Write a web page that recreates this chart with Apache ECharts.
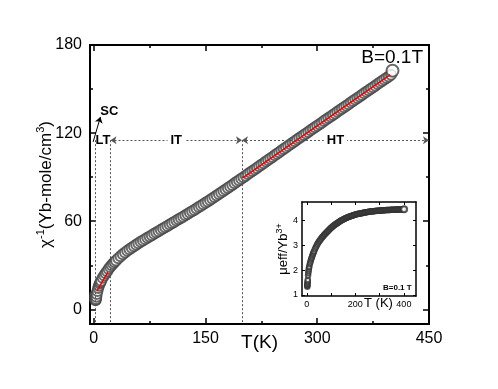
<!DOCTYPE html>
<html>
<head>
<meta charset="utf-8">
<script src="https://cdn.jsdelivr.net/npm/echarts@6/dist/echarts.min.js"></script>
<style>
  html, body { margin: 0; padding: 0; background: #fff; }
  #main { width: 498px; height: 389px; }
</style>
</head>
<body>
<div id="main"></div>
<script>
// temperature (K), shared by main plot and inset
var tempK = [1.8, 2, 2.2, 2.5, 3, 3.5, 4, 5, 6, 7, 8, 9, 10, 12, 14, 16, 18, 20, 22, 24, 26, 28,
  30, 33, 36, 39, 42, 45, 48, 51, 54, 57, 60, 63, 66, 69, 72, 75, 78, 81, 84, 87, 90, 93, 96, 99,
  102, 105, 108, 111, 114, 117, 120, 123, 126, 129, 132, 135, 138, 141, 144, 147, 150, 153, 156, 159,
  162, 165, 168, 171, 174, 177, 180, 183, 186, 189, 192, 195, 198, 201, 204, 207, 210, 213, 216, 219,
  222, 225, 228, 231, 234, 237, 240, 243, 246, 249, 252, 255, 258, 261, 264, 267, 270, 273, 276, 279,
  282, 285, 288, 291, 294, 297, 300, 303, 306, 309, 312, 315, 318, 321, 324, 327, 330, 333, 336, 339,
  342, 345, 348, 351, 354, 357, 360, 363, 366, 369, 372, 375, 378, 381, 384, 387, 390, 393, 396, 399, 401]
// inverse susceptibility (Yb-mole/cm3)
var chiInv = [9.5, 7.5, 6.5, 6.2, 7, 8.5, 10.5, 12.5, 14.5, 16, 17.5, 18.5, 19.5, 21.5, 23, 24.5, 26, 27.5, 28.8, 30, 31.2, 32.3,
  33.3, 34.8, 36.2, 37.5, 38.7, 39.8, 40.9, 42, 43, 44, 45, 46, 46.9, 47.8, 48.7, 49.6, 50.5, 51.4, 52.3, 53.2, 54.1, 55, 55.9, 56.8,
  57.7, 58.6, 59.5, 60.4, 61.3, 62.2, 63.1, 64, 64.9, 65.9, 66.8, 67.7, 68.7, 69.6, 70.6, 71.5, 72.5, 73.5, 74.5, 75.5,
  76.5, 77.5, 78.5, 79.5, 80.5, 81.6, 82.6, 83.7, 84.7, 85.8, 86.8, 87.9, 88.9, 90, 91, 92.1, 93.1, 94.2, 95.2, 96.3,
  97.4, 98.4, 99.5, 100.6, 101.6, 102.7, 103.8, 104.9, 105.9, 107, 108.1, 109.2, 110.2, 111.3, 112.4, 113.4, 114.5, 115.6, 116.6, 117.7,
  118.7, 119.8, 120.8, 121.9, 122.9, 124, 125, 126.1, 127.1, 128.2, 129.2, 130.3, 131.3, 132.4, 133.4, 134.5, 135.5, 136.6, 137.6, 138.7,
  139.7, 140.8, 141.8, 142.9, 143.9, 145, 146, 147.1, 148.1, 149.2, 150.2, 151.3, 152.3, 153.4, 154.4, 155.5, 156.5, 157.6, 158.6, 159.7, 162.5]
// effective moment (inset)
var muEff = [1.32, 1.36, 1.4, 1.45, 1.5, 1.55, 1.6, 1.78, 1.88, 1.96, 2.03, 2.1, 2.14, 2.24, 2.3, 2.38, 2.45, 2.5, 2.56, 2.62, 2.67, 2.72,
  2.76, 2.84, 2.9, 2.96, 3.02, 3.07, 3.12, 3.16, 3.2, 3.24, 3.28, 3.32, 3.36, 3.39, 3.43, 3.46, 3.49, 3.52, 3.55, 3.58, 3.61, 3.64, 3.67, 3.7,
  3.72, 3.75, 3.77, 3.8, 3.82, 3.84, 3.86, 3.88, 3.9, 3.92, 3.94, 3.96, 3.98, 4.0, 4.01, 4.03, 4.04, 4.06, 4.07, 4.09,
  4.1, 4.11, 4.13, 4.14, 4.15, 4.16, 4.17, 4.18, 4.19, 4.2, 4.21, 4.22, 4.23, 4.24, 4.25, 4.26, 4.26, 4.27, 4.28, 4.29,
  4.29, 4.3, 4.31, 4.31, 4.32, 4.33, 4.33, 4.34, 4.34, 4.35, 4.35, 4.36, 4.36, 4.37, 4.37, 4.37, 4.38, 4.38, 4.38, 4.39,
  4.39, 4.39, 4.4, 4.4, 4.4, 4.4, 4.41, 4.41, 4.41, 4.41, 4.42, 4.42, 4.42, 4.42, 4.42, 4.43, 4.43, 4.43, 4.43, 4.43,
  4.43, 4.44, 4.44, 4.44, 4.44, 4.44, 4.44, 4.44, 4.45, 4.45, 4.45, 4.45, 4.45, 4.45, 4.45, 4.45, 4.45, 4.46, 4.46, 4.46, 4.46]

// linear fits (red)
var htFitT = [200, 398]
var htFitChi = [89.5, 159.8]
var ltFitT = [4.5, 19]
var ltFitChi = [12.8, 25.4]

// region boundaries
var boundaryT = [2.5, 22.5, 199]
var regionLevel = 115.2

// ticks
var xTicks = [0, 150, 300, 450]
var xMinor = [75, 225, 375]
var yTicks = [0, 60, 120, 180]
var yMinor = [30, 90, 150]
var insetXTicks = [0, 100, 200, 300, 400]
var insetXLabels = [0, 200, 400]
var insetYTicks = [1, 2, 3, 4]

var FONT = 'Liberation Sans, Arial, sans-serif'

function pairs (xs, ys) {
  return xs.map(function (x, i) { return [x, ys[i]] })
}

function mainX (pos, ticks, len, labels) {
  return {
    type: 'value', gridIndex: 0, position: pos, min: -5, max: 450,
    axisLine: { show: true, onZero: false, lineStyle: { color: '#000', width: 2 } },
    axisTick: { show: true, inside: true, length: len, customValues: ticks, lineStyle: { color: '#000', width: 1.5 } },
    axisLabel: labels ? { show: true, customValues: labels, fontSize: 16, color: '#000', fontFamily: FONT, margin: 7 } : { show: false },
    splitLine: { show: false }
  }
}
function mainY (pos, ticks, len, labels) {
  return {
    type: 'value', gridIndex: 0, position: pos, min: -10, max: 180,
    axisLine: { show: true, onZero: false, lineStyle: { color: '#000', width: 2 } },
    axisTick: { show: true, inside: true, length: len, customValues: ticks, lineStyle: { color: '#000', width: 1.5 } },
    axisLabel: labels ? { show: true, customValues: labels, fontSize: 16, color: '#000', fontFamily: FONT, margin: 8 } : { show: false },
    splitLine: { show: false }
  }
}
function insetX (pos, labels) {
  return {
    type: 'value', gridIndex: 1, position: pos, min: -20, max: 450,
    axisLine: { show: true, onZero: false, lineStyle: { color: '#000', width: 1.5 } },
    axisTick: { show: true, inside: true, length: 3, customValues: insetXTicks, lineStyle: { color: '#000', width: 1 } },
    axisLabel: labels ? { show: true, customValues: labels, fontSize: 9, color: '#000', fontFamily: FONT, margin: 4 } : { show: false },
    splitLine: { show: false }
  }
}
function insetY (pos, labels) {
  return {
    type: 'value', gridIndex: 1, position: pos, min: 0.95, max: 4.75,
    axisLine: { show: true, onZero: false, lineStyle: { color: '#000', width: 1.5 } },
    axisTick: { show: true, inside: true, length: 3, customValues: insetYTicks, lineStyle: { color: '#000', width: 1 } },
    axisLabel: labels ? { show: true, customValues: labels, fontSize: 9, color: '#000', fontFamily: FONT, margin: 4 } : { show: false },
    splitLine: { show: false }
  }
}

var xAxes = [
  mainX('bottom', xTicks, 6, xTicks),
  mainX('bottom', xMinor, 3),
  mainX('top', xTicks, 6),
  mainX('top', xMinor, 3),
  insetX('bottom', insetXLabels),
  insetX('top')
]
xAxes[0].name = 'T(K)'
xAxes[0].nameLocation = 'middle'
xAxes[0].nameGap = 9
xAxes[0].nameMoveOverlap = false
xAxes[0].nameTextStyle = { fontSize: 19, color: '#000', fontFamily: FONT }

var yAxes = [
  mainY('left', yTicks, 6, yTicks),
  mainY('left', yMinor, 3),
  mainY('right', yTicks, 6),
  mainY('right', yMinor, 3),
  insetY('left', insetYTicks),
  insetY('right')
]
yAxes[0].name = '{a|χ}{s|-1}{a|(Yb-mole/cm}{s|3}{a|)}'
yAxes[0].nameLocation = 'middle'
yAxes[0].nameGap = 33
yAxes[0].nameMoveOverlap = false
yAxes[0].nameTextStyle = {
  color: '#000', fontFamily: FONT,
  rich: {
    a: { fontSize: 17, lineHeight: 22, color: '#000', fontFamily: FONT },
    s: { fontSize: 11, lineHeight: 22, color: '#000', fontFamily: FONT, verticalAlign: 'top', padding: [0, 0, 8, 0] }
  }
}
yAxes[4].name = '{a|μeff/Yb}{s|3+}'
yAxes[4].nameLocation = 'middle'
yAxes[4].nameGap = 11
yAxes[4].nameMoveOverlap = false
yAxes[4].nameTextStyle = {
  color: '#000', fontFamily: FONT,
  rich: {
    a: { fontSize: 13, lineHeight: 16, color: '#000', fontFamily: FONT },
    s: { fontSize: 9, lineHeight: 16, color: '#000', fontFamily: FONT, verticalAlign: 'top', padding: [0, 0, 6, 0] }
  }
}

var dotted = { color: '#555', width: 1, type: [2, 2] }
var markLines = boundaryT.map(function (t) {
  return [{ coord: [t, regionLevel], lineStyle: dotted, label: { show: false } }, { coord: [t, -10] }]
})
markLines.push([{ coord: [boundaryT[1], regionLevel], symbol: 'arrow', lineStyle: dotted, label: { show: false } }, { coord: [boundaryT[2], regionLevel], symbol: 'arrow' }])
markLines.push([{ coord: [boundaryT[2], regionLevel], symbol: 'arrow', lineStyle: dotted, label: { show: false } }, { coord: [450, regionLevel], symbol: 'arrow' }])
markLines.push([{ coord: [-0.8, 114], lineStyle: { color: '#000', width: 1, type: 'solid' }, label: { show: false } }, { coord: [9, 131], symbol: 'arrow' }])

function textMark (coord, txt, bg) {
  return {
    coord: coord,
    label: { show: true, position: 'inside', formatter: txt, fontSize: 13, fontWeight: 'bold', color: '#000', fontFamily: FONT, backgroundColor: bg ? '#fff' : 'transparent', padding: bg ? [0, 3] : 0 }
  }
}

var option = {
  animation: false,
  backgroundColor: '#fff',
  grid: [
    { left: 90, top: 45, right: 69, bottom: 65 },
    { left: 302, top: 202, width: 114, height: 94 }
  ],
  xAxis: xAxes,
  yAxis: yAxes,
  graphic: [
    { type: 'text', right: 75, top: 48, style: { text: 'B=0.1T', font: '19px ' + FONT, fill: '#000' } },
    { type: 'text', left: 364, top: 297, style: { text: 'T (K)', font: '13px ' + FONT, fill: '#000' } },
    { type: 'text', left: 383, top: 284, style: { text: 'B=0.1 T', font: 'bold 8px ' + FONT, fill: '#000' } }
  ],
  series: [
    {
      type: 'scatter', xAxisIndex: 0, yAxisIndex: 0,
      data: pairs(tempK, chiInv),
      symbol: 'emptyCircle',
      symbolSize: function (v, p) { return p.dataIndex === tempK.length - 1 ? 12 : 10 },
      itemStyle: { color: '#444', borderWidth: 0.8 },
      z: 2
    },
    {
      type: 'line', xAxisIndex: 0, yAxisIndex: 0,
      data: pairs(htFitT, htFitChi),
      showSymbol: false, lineStyle: { color: '#e00', width: 1.5 }, z: 5,
      markLine: {
        silent: true, symbol: ['none', 'none'], symbolSize: 6,
        data: markLines
      },
      markPoint: {
        silent: true, symbol: 'rect', symbolSize: 1, itemStyle: { color: 'rgba(0,0,0,0)' },
        data: [
          textMark([12.3, regionLevel], 'LT', false),
          textMark([21, 135], 'SC', false),
          textMark([(boundaryT[1] + boundaryT[2]) / 2, regionLevel], 'IT', true),
          textMark([(boundaryT[2] + 450) / 2, regionLevel], 'HT', true)
        ]
      }
    },
    {
      type: 'line', xAxisIndex: 0, yAxisIndex: 0,
      data: pairs(ltFitT, ltFitChi),
      showSymbol: false, lineStyle: { color: '#e00', width: 1.5 }, z: 5
    },
    {
      type: 'scatter', xAxisIndex: 4, yAxisIndex: 4,
      data: pairs(tempK, muEff),
      symbol: 'emptyCircle',
      symbolSize: function (v, p) { return p.dataIndex === tempK.length - 1 ? 6 : 4.5 },
      itemStyle: { color: '#333', borderWidth: 0.8 }
    }
  ]
}

var chart = echarts.init(document.getElementById('main'))
chart.setOption(option)
</script>
</body>
</html>
